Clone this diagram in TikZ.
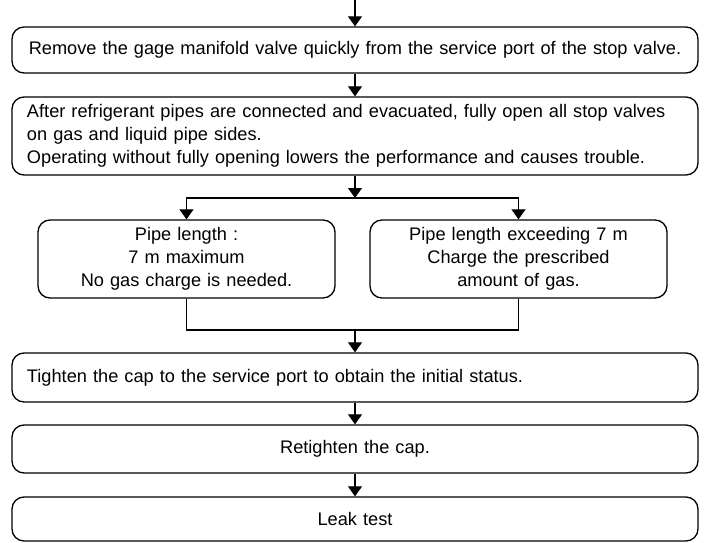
\documentclass[tikz,border=0pt]{standalone}
\usepackage{fontspec}
\setmainfont{Liberation Sans}
\usetikzlibrary{arrows.meta}
\begin{document}
\begin{tikzpicture}[x=1pt,y=-1pt,
  box/.style={draw, line width=1.3pt, rounded corners=12pt, inner sep=0pt, font=\fontsize{18.2}{23}\selectfont},
  wide/.style={box, minimum width=686pt, text width=656pt},
  half/.style={box, minimum width=297pt, minimum height=78pt, text width=285pt, align=center},
  arr/.style={line width=1.1pt, -{Triangle[width=14pt,length=10pt]}},
  ln/.style={line width=1.1pt}]
\useasboundingbox (0,0) rectangle (707,543);
\node[wide, minimum height=46pt, align=center] (b1) at (355,50) {Remove the gage manifold valve quickly from the service port of the stop valve.};
\node[wide, minimum height=78pt, align=left] (b2) at (355,136) {After refrigerant pipes are connected and evacuated, fully open all stop valves\\on gas and liquid pipe sides.\\Operating without fully opening lowers the performance and causes trouble.};
\node[half] (l) at (186.5,259) {Pipe length :\\7 m maximum\\No gas charge is needed.};
\node[half] (r) at (518.5,259) {Pipe length exceeding 7 m\\Charge the prescribed\\amount of gas.};
\node[wide, minimum height=49pt, align=left] (b3) at (355,377.5) {Tighten the cap to the service port to obtain the initial status.};
\node[wide, minimum height=48pt, align=center] (b4) at (355,449) {Retighten the cap.};
\node[wide, minimum height=44pt, align=center] (b5) at (355,519) {Leak test};
\coordinate (top) at (355,0);
\coordinate (split) at (355,198);
\coordinate (merge) at (355,330);
\draw[arr] (top) -- (b1.north);
\draw[arr] (b1.south) -- (b2.north);
\draw[arr] (b2.south) -- (split);
\draw[arr] (split) -| (l.north);
\draw[arr] (split) -| (r.north);
\draw[ln] (l.south) |- (merge);
\draw[ln] (r.south) |- (merge);
\draw[arr] (merge) -- (b3.north);
\draw[arr] (b3.south) -- (b4.north);
\draw[arr] (b4.south) -- (b5.north);
\end{tikzpicture}
\end{document}
